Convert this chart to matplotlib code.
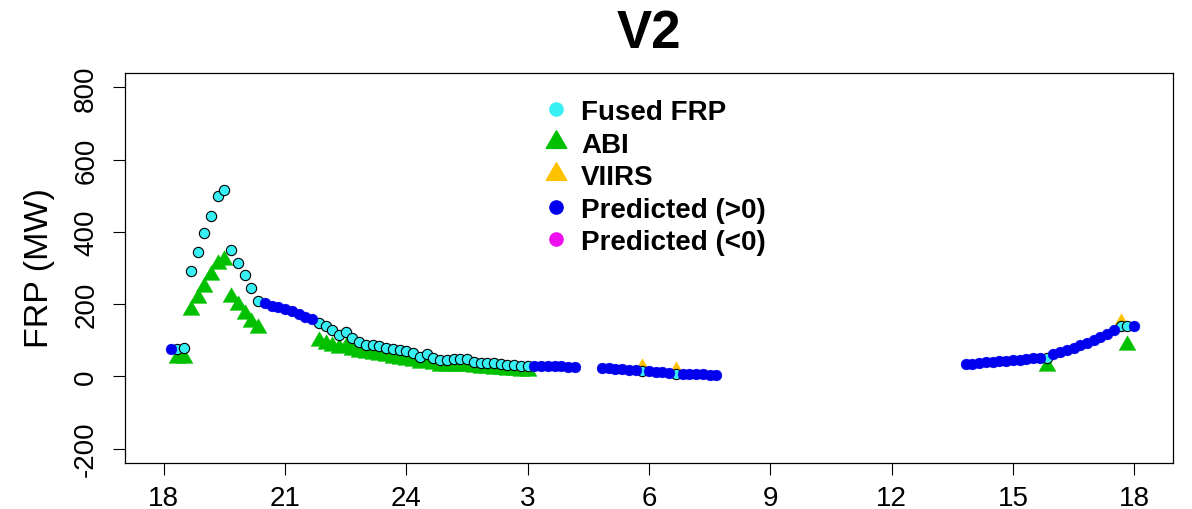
import matplotlib
matplotlib.use("Agg")
import matplotlib.pyplot as plt
from matplotlib.lines import Line2D
import numpy as np

plt.rcParams["font.family"] = ["Liberation Sans", "DejaVu Sans"]

# time is given in minutes after 18:00 of day 1 (10-minute steps)
FUSED_MIN = [20, 30, 40, 50, 60, 70, 80, 90, 100, 110, 120, 130, 140,
             230, 240, 250, 260, 270, 280, 290, 300, 310, 320, 330, 340, 350,
             360, 370, 380, 390, 400, 410, 420, 430, 440, 450, 460, 470, 480,
             490, 500, 510, 520, 530, 540,
             710, 760, 1310, 1420, 1430]
FUSED_FRP = [76, 79, 293, 344, 397, 445, 499, 515, 350, 315, 280, 246, 209,
             148, 139, 127, 115, 123, 106, 95, 88, 86, 83, 79, 77, 74,
             70, 65, 54, 63, 51, 44, 46, 47, 47, 49, 41, 38, 37,
             37, 33, 32, 32, 30, 30,
             15, 7, 51, 139, 139]

ABI_MIN = [20, 30, 40, 50, 60, 70, 80, 90, 100, 110, 120, 130, 140,
           230, 240, 250, 260, 270, 280, 290, 300, 310, 320, 330, 340, 350,
           360, 370, 380, 390, 400, 410, 420, 430, 440, 450, 460, 470, 480,
           490, 500, 510, 520, 530, 540,
           1310, 1430]
ABI_FRP = [50, 51, 183, 216, 248, 280, 312, 323, 220, 197, 174, 151, 133,
           97, 90, 83, 79, 81, 73, 68, 64, 61, 58, 55, 52, 49,
           46, 43, 38, 39, 34, 30, 30, 30, 29, 29, 25, 23, 22,
           21, 19, 18, 17, 16, 16,
           28, 88]

VIIRS_MIN = [710, 760, 1420]
VIIRS_FRP = [24, 15, 148]

PRED_MIN = [10,
            150, 160, 170, 180, 190, 200, 210, 220,
            550, 560, 570, 580, 590, 600, 610,
            650, 660, 670, 680, 690, 700,
            720, 730, 740, 750,
            770, 780, 790, 800, 810, 820,
            1190, 1200, 1210, 1220, 1230, 1240, 1250, 1260, 1270, 1280, 1290, 1300,
            1320, 1330, 1340, 1350, 1360, 1370, 1380, 1390, 1400, 1410,
            1440]
PRED_FRP = [76,
            203, 196, 191, 186, 180, 172, 165, 158,
            30, 29, 29, 28, 28, 27, 26,
            24, 22, 21, 19, 18, 17,
            14, 13, 11, 10,
            7, 7, 6, 6, 5, 5,
            35, 35, 37, 39, 40, 42, 43, 44, 46, 48, 50, 52,
            63, 67, 72, 78, 86, 92, 100, 109, 118, 129,
            139]

X_TICKS = [18, 21, 24, 27, 30, 33, 36, 39, 42]
X_TICKLABELS = ["18", "21", "24", "3", "6", "9", "12", "15", "18"]
Y_TICKS = [-200, 0, 200, 400, 600, 800]

COL_FUSED = "#38F0F4"
COL_ABI = "#00C000"
COL_VIIRS = "#FFC200"
COL_POS = "#0000EE"
COL_NEG = "#EE10EE"

# R-style filled triangle (pch 17): apex higher than base is low
TRI = [(0, 1.5551), (1.3468, -0.7776), (-1.3468, -0.7776), (0, 1.5551)]


def hours(mins):
    return 18 + np.asarray(mins) / 60.0


fig = plt.figure(figsize=(11.92, 5.10), dpi=100)
ax = fig.add_axes([125 / 1192, 46 / 510, 1048 / 1192, 390 / 510])

ax.plot(hours(ABI_MIN), ABI_FRP, ls="none", marker=TRI, ms=14,
        color=COL_ABI, mec=COL_ABI, mew=0.3)
ax.plot(hours(VIIRS_MIN), VIIRS_FRP, ls="none", marker=TRI, ms=14,
        color=COL_VIIRS, mec=COL_VIIRS, mew=0.3)
ax.plot(hours(FUSED_MIN), FUSED_FRP, ls="none", marker="o", ms=7.4,
        mfc=COL_FUSED, mec="black", mew=0.8)
ax.plot(hours(PRED_MIN), PRED_FRP, ls="none", marker="o", ms=7.8,
        mfc=COL_POS, mec=COL_POS, mew=0.3)

ax.set_xlim(17.04, 42.96)
ax.set_ylim(-240, 840)
ax.set_xticks(X_TICKS)
ax.set_xticklabels(X_TICKLABELS, fontsize=20)
ax.set_yticks(Y_TICKS)
ax.set_yticklabels([str(v) for v in Y_TICKS], fontsize=20, rotation=90,
                   va="center")
ax.tick_params(axis="x", length=8.6, width=0.8, pad=7)
ax.tick_params(axis="y", length=8.6, width=0.8, pad=10)
for sp in ax.spines.values():
    sp.set_linewidth(0.9)

fig.text(649 / 1192, 1 - 48 / 510, "V2", ha="center", va="baseline",
         fontsize=38, fontweight="bold")
fig.text(40 / 1192, 1 - 268 / 510, "FRP (MW)", rotation=90, ha="center",
         va="center", fontsize=24.5)

# legend, drawn by hand like R's legend(bty = "n")
leg_items = [("Fused FRP", "o", COL_FUSED),
             ("ABI", TRI, COL_ABI),
             ("VIIRS", TRI, COL_VIIRS),
             ("Predicted (>0)", "o", COL_POS),
             ("Predicted (<0)", "o", COL_NEG)]
for i, (lab, mk, col) in enumerate(leg_items):
    ypx = 110 + i * 32.6
    yf = 1 - ypx / 510
    ms = 9.5 if mk == "o" else 17
    fig.add_artist(Line2D([556 / 1192], [yf], ls="none", marker=mk, ms=ms,
                          color=col, mec=col, transform=fig.transFigure))
    fig.text(581 / 1192, yf, lab, ha="left", va="center_baseline",
             fontsize=20, fontweight="bold")

fig.savefig("out.png", dpi=100)
